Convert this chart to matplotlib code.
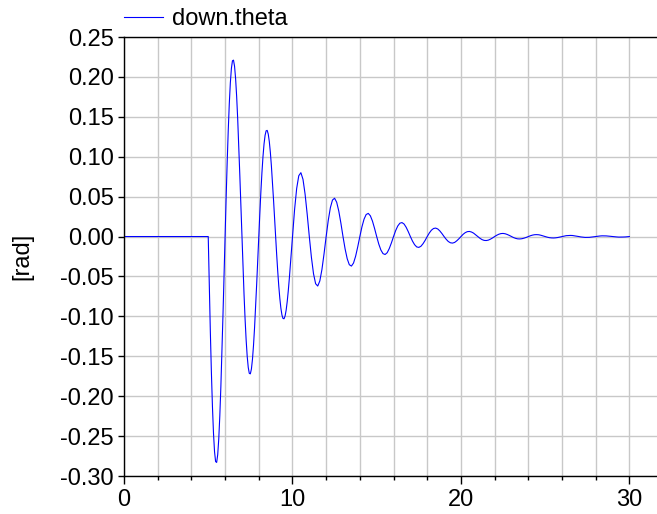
import numpy as np
import matplotlib
matplotlib.use("Agg")
import matplotlib.pyplot as plt
from matplotlib.ticker import MultipleLocator, FormatStrFormatter

plt.rcParams['font.family'] = ['Liberation Sans', 'DejaVu Sans']
plt.rcParams['axes.unicode_minus'] = False

# sample times (s): flat part, fine sampling 5..10, coarser 10..30
time_flat = [0.0]
theta_flat = [0.0]
time_a = np.arange(5.0, 10.0 - 1e-9, 0.0625)
time_b = np.arange(10.0, 30.0 + 1e-9, 0.125)

# down.theta [rad], t = 5 .. 10 (one row per second)
theta_a = [
    0.0, -0.0616, -0.1189, -0.1699, -0.2129, -0.2465, -0.2697, -0.2819,
    -0.2830, -0.2733, -0.2535, -0.2246, -0.1881, -0.1455, -0.0987, -0.0495,
    0.0, 0.0481, 0.0928, 0.1327, 0.1663, 0.1925, 0.2106, 0.2202,
    0.2210, 0.2134, 0.1979, 0.1754, 0.1469, 0.1136, 0.0770, 0.0387,
    0.0, -0.0374, -0.0723, -0.1033, -0.1294, -0.1498, -0.1639, -0.1714,
    -0.1720, -0.1661, -0.1540, -0.1365, -0.1143, -0.0884, -0.0600, -0.0301,
    0.0, 0.0289, 0.0559, 0.0799, 0.1001, 0.1159, 0.1268, 0.1325,
    0.1330, 0.1284, 0.1191, 0.1056, 0.0884, 0.0684, 0.0464, 0.0233,
    0.0, -0.0224, -0.0433, -0.0619, -0.0775, -0.0897, -0.0982, -0.1026,
    -0.1030, -0.0995, -0.0923, -0.0817, -0.0684, -0.0530, -0.0359, -0.0180,
]

# down.theta [rad], t = 10 .. 30 (one row per second)
theta_b = [
    0.0, 0.0336, 0.0602, 0.0762, 0.0800, 0.0717, 0.0531, 0.0279,
    0.0, -0.0260, -0.0466, -0.0591, -0.0620, -0.0556, -0.0412, -0.0216,
    0.0, 0.0202, 0.0361, 0.0457, 0.0480, 0.0430, 0.0319, 0.0168,
    0.0, -0.0155, -0.0278, -0.0353, -0.0370, -0.0332, -0.0246, -0.0129,
    0.0, 0.0122, 0.0218, 0.0276, 0.0290, 0.0260, 0.0193, 0.0101,
    0.0, -0.0095, -0.0169, -0.0214, -0.0225, -0.0202, -0.0149, -0.0079,
    0.0, 0.0074, 0.0132, 0.0167, 0.0175, 0.0157, 0.0116, 0.0061,
    0.0, -0.0057, -0.0102, -0.0130, -0.0136, -0.0122, -0.0090, -0.0048,
    0.0, 0.0045, 0.0080, 0.0101, 0.0106, 0.0095, 0.0070, 0.0037,
    0.0, -0.0034, -0.0062, -0.0078, -0.0082, -0.0074, -0.0054, -0.0029,
    0.0, 0.0027, 0.0048, 0.0061, 0.0064, 0.0057, 0.0043, 0.0022,
    0.0, -0.0021, -0.0038, -0.0048, -0.0050, -0.0045, -0.0033, -0.0018,
    0.0, 0.0016, 0.0029, 0.0037, 0.0039, 0.0035, 0.0026, 0.0014,
    0.0, -0.0013, -0.0023, -0.0029, -0.0030, -0.0027, -0.0020, -0.0011,
    0.0, 0.0010, 0.0018, 0.0023, 0.0024, 0.0022, 0.0016, 0.0008,
    0.0, -0.0008, -0.0014, -0.0017, -0.0018, -0.0016, -0.0012, -0.0006,
    0.0, 0.0006, 0.0011, 0.0013, 0.0014, 0.0013, 0.0009, 0.0005,
    0.0, -0.0005, -0.0008, -0.0011, -0.0011, -0.0010, -0.0007, -0.0004,
    0.0, 0.0004, 0.0007, 0.0009, 0.0009, 0.0008, 0.0006, 0.0003,
    0.0, -0.0003, -0.0005, -0.0007, -0.0007, -0.0006, -0.0005, -0.0002,
    0.0,
]

time = np.concatenate([time_flat, time_a, time_b])
theta = np.concatenate([theta_flat, theta_a, theta_b])

series_label = "down.theta"
y_label = "[rad]"

FS = 17

fig = plt.figure(figsize=(6.57, 5.14), dpi=100)
ax = fig.add_axes([124 / 657, 38 / 514, 1 - 124 / 657, (476 - 37) / 514])

ax.plot(time, theta, color='#0000ff', lw=0.8, label=series_label)

ax.set_xlim(0, 31.64)
ax.set_ylim(-0.30, 0.25)

ax.xaxis.set_major_locator(MultipleLocator(10))
ax.xaxis.set_minor_locator(MultipleLocator(2))
ax.yaxis.set_major_locator(MultipleLocator(0.05))
ax.yaxis.set_major_formatter(FormatStrFormatter('%.2f'))

ax.grid(True, which='both', axis='x', color='#c8c8c8', lw=1.0)
ax.grid(True, which='major', axis='y', color='#c8c8c8', lw=1.0)
ax.set_axisbelow(True)

ax.spines['right'].set_visible(False)
for s in ['left', 'bottom', 'top']:
    ax.spines[s].set_linewidth(1.0)
    ax.spines[s].set_color('black')

ax.tick_params(axis='y', which='major', direction='out', length=4.5, width=1,
               labelsize=FS, colors='black', pad=3)
ax.tick_params(axis='x', which='major', direction='out', length=6, width=1,
               labelsize=FS, colors='black', pad=3)
ax.tick_params(axis='x', which='minor', direction='out', length=3, width=1)

ax.set_ylabel(y_label, fontsize=FS, labelpad=19)

leg = fig.legend(loc='center left', bbox_to_anchor=(124 / 657, 1 - 19 / 514),
                 frameon=False, fontsize=FS, handlelength=1.65,
                 handletextpad=0.38, borderaxespad=0, borderpad=0)

fig.savefig('out.png', dpi=100)
